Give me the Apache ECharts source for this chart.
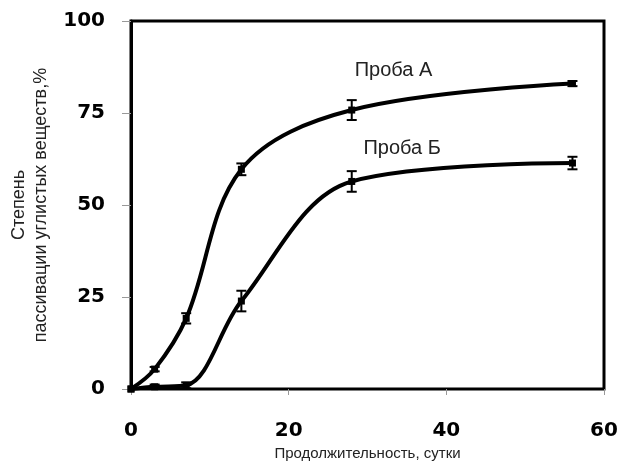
<!DOCTYPE html>
<html>
<head>
<meta charset="utf-8">
<script src="https://cdn.jsdelivr.net/npm/echarts@6/dist/echarts.min.js"></script>
<style>
  html, body { margin: 0; padding: 0; background: #fff; }
  #chart { width: 621px; height: 462px; }
</style>
</head>
<body>
<div id="chart"></div>
<script>
// days of measurement
var days = [0, 3, 7, 14, 28, 56];
// degree of passivation, %
var probaA = [0, 5.4, 19.2, 59.7, 75.8, 83];
var probaB = [0, 0.6, 1, 23.9, 56.4, 61.4];
// error half-widths
var errA = [0, 0.6, 1.4, 1.6, 2.7, 0.7];
var errB = [0, 0.6, 0.8, 2.8, 2.8, 1.7];

var yTicks = [0, 25, 50, 75, 100];
var xTicks = [0, 20, 40, 60];

// where the sample names sit, in data units
var labelA = [33.3, 86.6];
var labelB = [34.4, 65.4];

function pairs(xs, ys) {
    var out = [];
    for (var i = 0; i < xs.length; i++) out.push([xs[i], ys[i]]);
    return out;
}

function errData(xs, ys, es) {
    var out = [];
    for (var i = 0; i < xs.length; i++) {
        if (es[i] > 0) out.push([xs[i], ys[i] - es[i], ys[i] + es[i]]);
    }
    return out;
}

function renderErr(params, api) {
    var x = api.value(0);
    var lo = api.coord([x, api.value(1)]);
    var hi = api.coord([x, api.value(2)]);
    var w = 5;
    var st = { stroke: '#000', lineWidth: 2 };
    return {
        type: 'group',
        children: [
            { type: 'line', shape: { x1: lo[0], y1: lo[1], x2: hi[0], y2: hi[1] }, style: st },
            { type: 'line', shape: { x1: lo[0] - w, y1: lo[1], x2: lo[0] + w, y2: lo[1] }, style: st },
            { type: 'line', shape: { x1: hi[0] - w, y1: hi[1], x2: hi[0] + w, y2: hi[1] }, style: st }
        ]
    };
}

function nameMark(text, coord) {
    return {
        symbol: 'rect', symbolSize: 2,
        itemStyle: { color: 'rgba(0,0,0,0)' },
        label: {
            show: true, position: 'inside', formatter: text,
            color: '#222', fontFamily: 'Liberation Sans', fontSize: 20
        },
        data: [{ coord: coord }]
    };
}

var chart = echarts.init(document.getElementById('chart'));

var lineStyle = { color: '#000', width: 4 };

chart.setOption({
    backgroundColor: '#fff',
    animation: false,
    grid: {
        left: 131, right: 17, top: 21, bottom: 73,
        outerBoundsMode: 'none', containLabel: false,
        show: true, borderColor: '#000', borderWidth: 3
    },
    xAxis: {
        type: 'value', min: 0, max: 60, interval: 20,
        name: 'Продолжительность, сутки',
        nameLocation: 'middle', nameGap: 56,
        nameTextStyle: { fontFamily: 'Liberation Sans', fontSize: 15, color: '#222' },
        axisLine: { show: true, lineStyle: { color: '#000', width: 2 } },
        axisTick: { show: true, length: 6, lineStyle: { color: '#999', width: 1 } },
        axisLabel: {
            margin: 32, color: '#000', fontFamily: 'DejaVu Sans', fontWeight: 'bold', fontSize: 20,
            formatter: function (v) { return xTicks.indexOf(v) >= 0 ? String(v) : ''; }
        },
        splitLine: { show: false }
    },
    yAxis: {
        type: 'value', min: 0, max: 100, interval: 25,
        name: 'Степень\nпассивации углистых веществ,%',
        nameLocation: 'middle', nameGap: 79, nameRotate: 90,
        nameTextStyle: { fontFamily: 'Liberation Sans', fontSize: 18, color: '#222', lineHeight: 22 },
        axisLine: { show: true, lineStyle: { color: '#000', width: 3 } },
        axisTick: { show: true, length: 9, lineStyle: { color: '#999', width: 1 } },
        axisLabel: {
            margin: 26, color: '#000', fontFamily: 'DejaVu Sans', fontWeight: 'bold', fontSize: 20,
            formatter: function (v) { return yTicks.indexOf(v) >= 0 ? String(v) : ''; }
        },
        splitLine: { show: false }
    },
    series: [
        {
            name: 'Проба А', type: 'line', smooth: 0.35,
            data: pairs(days, probaA),
            symbol: 'rect', symbolSize: 7,
            itemStyle: { color: '#000' },
            lineStyle: lineStyle,
            markPoint: nameMark('Проба А', labelA),
            z: 3
        },
        {
            name: 'Проба Б', type: 'line', smooth: 0.35,
            data: pairs(days, probaB),
            symbol: 'rect', symbolSize: 7,
            itemStyle: { color: '#000' },
            lineStyle: lineStyle,
            markPoint: nameMark('Проба Б', labelB),
            z: 3
        },
        {
            type: 'custom', renderItem: renderErr,
            data: errData(days, probaA, errA), z: 4
        },
        {
            type: 'custom', renderItem: renderErr,
            data: errData(days, probaB, errB), z: 4
        }
    ]
});
</script>
</body>
</html>
